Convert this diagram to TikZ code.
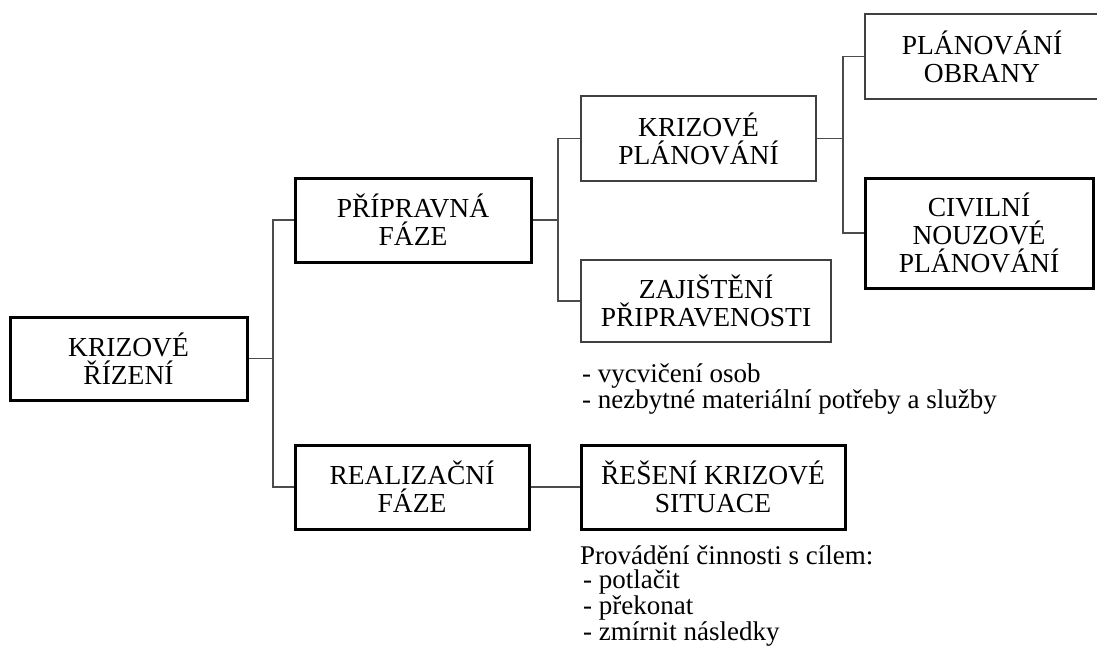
\documentclass[tikz,border=0pt]{standalone}
\usepackage{fontspec}
\setmainfont{Liberation Serif}
\begin{document}
\begin{tikzpicture}[x=1pt,y=-1pt,
  boxbase/.style={rectangle, align=center, inner sep=0pt, fill=white,
    font=\fontsize{27.5}{28}\selectfont},
  thickbox/.style={boxbase, draw=black, line width=3pt},
  thinbox/.style={boxbase, draw=black!75, line width=1.6pt},
  conn/.style={draw=black!70, line width=1.6pt},
  note/.style={align=left, inner sep=0pt, anchor=base west,
    font=\fontsize{27}{24.5}\selectfont}]
\useasboundingbox (0,0) rectangle (1097,656);
\fill[white] (0,0) rectangle (1097,656);

\node[thickbox, minimum width=237pt, minimum height=83pt] (kr) at (128.5,358.5) {KRIZOVÉ\\ŘÍZENÍ};
\node[thickbox, minimum width=236pt, minimum height=84pt] (pf) at (413,220) {PŘÍPRAVNÁ\\FÁZE};
\node[thickbox, minimum width=234pt, minimum height=84pt] (rf) at (412,487) {REALIZAČNÍ\\FÁZE};
\node[thinbox, minimum width=235pt, minimum height=85pt] (kp) at (698.5,138.5) {KRIZOVÉ\\PLÁNOVÁNÍ};
\node[thinbox, minimum width=250pt, minimum height=82pt] (zp) at (706,301) {ZAJIŠTĚNÍ\\PŘIPRAVENOSTI};
\node[thinbox, minimum width=234pt, minimum height=85pt] (po) at (982,56.5) {PLÁNOVÁNÍ\\OBRANY};
\node[thickbox, minimum width=228pt, minimum height=110pt] (cn) at (979,233) {CIVILNÍ\\NOUZOVÉ\\PLÁNOVÁNÍ};
\node[thickbox, minimum width=264pt, minimum height=84pt] (rs) at (713,487) {ŘEŠENÍ KRIZOVÉ\\SITUACE};

\node[note] (n1) at (582,408) {- vycvičení osob\\- nezbytné materiální potřeby a služby};
\node[note] (n2) at (580,640) {Provádění činnosti s cílem:\\\hspace*{3pt}- potlačit\\\hspace*{3pt}- překonat\\\hspace*{3pt}- zmírnit následky};

\coordinate (j1) at (273,358.5);
\coordinate (j2) at (558,220);
\coordinate (j3) at (843,138.5);

\draw[conn] (kr.east) -- (j1);
\draw[conn] (pf.west) -| (j1) |- (rf.west);
\draw[conn] (pf.east) -- (j2);
\draw[conn] (kp.west) -| (j2) |- (zp.west);
\draw[conn] (kp.east) -- (j3);
\draw[conn] (po.west) -| (j3) |- (cn.west);
\draw[conn] (rf.east) -- (rs.west);
\end{tikzpicture}
\end{document}
